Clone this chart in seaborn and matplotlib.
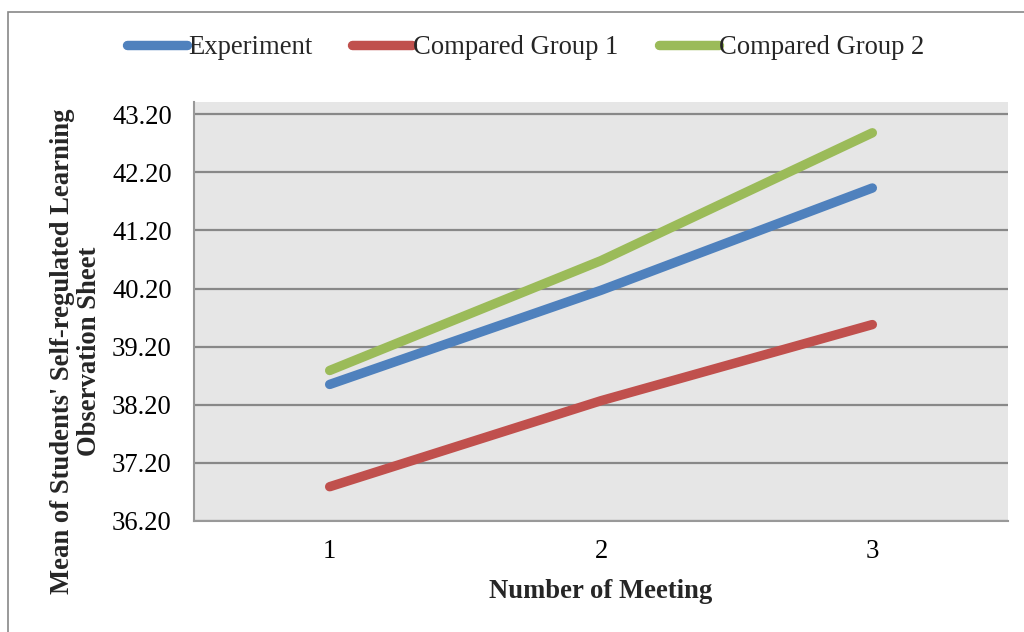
import pandas as pd
import numpy as np
import matplotlib
matplotlib.use("Agg")
import matplotlib.pyplot as plt
import matplotlib.patches as mpatches
import seaborn as sns

# data
meetings = [1, 2, 3]
experiment = [38.55, 40.17, 41.93]
compared_1 = [36.79, 38.27, 39.58]
compared_2 = [38.79, 40.68, 42.88]
series_names = ["Experiment", "Compared Group 1", "Compared Group 2"]
y_ticks = [36.2, 37.2, 38.2, 39.2, 40.2, 41.2, 42.2, 43.2]

df = pd.DataFrame({
    "Meeting": meetings * 3,
    "Mean": experiment + compared_1 + compared_2,
    "Group": [series_names[0]] * 3 + [series_names[1]] * 3 + [series_names[2]] * 3,
})

sns.set_style("white")
plt.rcParams["font.family"] = ["Liberation Serif", "DejaVu Serif"]
FS = 19.2

palette = {"Experiment": "#4F81BD", "Compared Group 1": "#C0504D", "Compared Group 2": "#9BBB59"}

fig = plt.figure(figsize=(10.24, 6.32), dpi=100)
ax = fig.add_axes([194 / 1024, 1 - 521 / 632, (1008 - 194) / 1024, (521 - 102) / 632])
ax.set_facecolor("#E6E6E6")

sns.lineplot(
    data=df, x="Meeting", y="Mean", hue="Group", palette=palette,
    hue_order=series_names, linewidth=6.8, solid_capstyle="round", ax=ax,
)

ax.set_xlim(0.5, 3.5)
ax.set_ylim(36.2, 43.41)
ax.set_xticks(meetings)
ax.set_xticklabels([str(m) for m in meetings])
ax.set_yticks(y_ticks)
ax.set_yticklabels([f"{v:.2f}" for v in y_ticks])
ax.tick_params(axis="both", length=0, labelsize=FS, colors="black")
ax.tick_params(axis="y", pad=16)
ax.tick_params(axis="x", pad=13)
ax.yaxis.grid(True, color="#888888", linewidth=1.6)
ax.set_axisbelow(True)
for s in ["top", "right"]:
    ax.spines[s].set_visible(False)
for s in ["left", "bottom"]:
    ax.spines[s].set_color("#999999")
    ax.spines[s].set_linewidth(1.5)
ax.set_xlabel("")
ax.set_ylabel("")

fig.text(601 / 1024, 1 - 592 / 632, "Number of Meeting", ha="center", va="center",
         fontsize=FS, fontweight="bold")
fig.text(76 / 1024, 1 - 351 / 632,
         "Mean of Students' Self-regulated Learning\nObservation Sheet",
         ha="center", va="center", rotation=90, fontsize=FS, fontweight="bold",
         multialignment="center", linespacing=1.1)

handles, labels = ax.get_legend_handles_labels()
ax.get_legend().remove()
fig.legend(handles, labels, loc="center", bbox_to_anchor=(526 / 1024, 1 - 48 / 632),
           ncol=3, frameon=False, fontsize=FS, handlelength=2.25, handletextpad=0.03,
           columnspacing=1.5)

# outer chart border
fig.add_artist(mpatches.Rectangle((8 / 1024, -0.1), 1.2, 1.1 - 12 / 632,
                                  transform=fig.transFigure, fill=False,
                                  edgecolor="#888888", linewidth=1.2))

fig.savefig("out.png", dpi=100)
